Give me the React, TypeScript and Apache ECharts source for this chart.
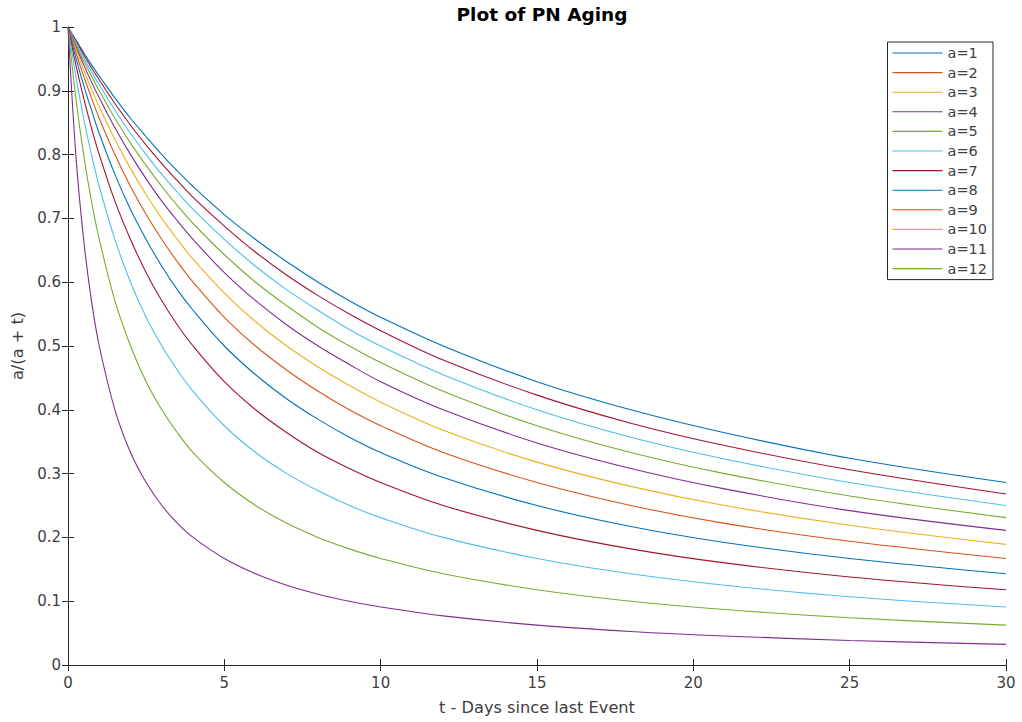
import React, { useEffect, useRef } from "react";
import * as echarts from "echarts";

// t sample positions (days)
const tValues = [0, 0.25, 0.5, 0.75, 1, 1.5, 2, 2.5, 3, 3.5, 4, 5, 6, 7, 8, 9, 10, 12, 15, 18, 21, 25, 30];

// curve values, top curve first
const curveTop1 = [1, 0.98, 0.96, 0.941, 0.923, 0.889, 0.857, 0.828, 0.8, 0.774, 0.75, 0.706, 0.667, 0.632, 0.6, 0.571, 0.545, 0.5, 0.444, 0.4, 0.364, 0.324, 0.286];
const curveTop2 = [1, 0.978, 0.957, 0.936, 0.917, 0.88, 0.846, 0.815, 0.786, 0.759, 0.733, 0.688, 0.647, 0.611, 0.579, 0.55, 0.524, 0.478, 0.423, 0.379, 0.344, 0.306, 0.268];
const curveTop3 = [1, 0.976, 0.952, 0.93, 0.909, 0.87, 0.833, 0.8, 0.769, 0.741, 0.714, 0.667, 0.625, 0.588, 0.556, 0.526, 0.5, 0.455, 0.4, 0.357, 0.323, 0.286, 0.25];
const curveTop4 = [1, 0.973, 0.947, 0.923, 0.9, 0.857, 0.818, 0.783, 0.75, 0.72, 0.692, 0.643, 0.6, 0.563, 0.529, 0.5, 0.474, 0.429, 0.375, 0.333, 0.3, 0.265, 0.231];
const curveTop5 = [1, 0.97, 0.941, 0.914, 0.889, 0.842, 0.8, 0.762, 0.727, 0.696, 0.667, 0.615, 0.571, 0.533, 0.5, 0.471, 0.444, 0.4, 0.348, 0.308, 0.276, 0.242, 0.211];
const curveTop6 = [1, 0.966, 0.933, 0.903, 0.875, 0.824, 0.778, 0.737, 0.7, 0.667, 0.636, 0.583, 0.538, 0.5, 0.467, 0.438, 0.412, 0.368, 0.318, 0.28, 0.25, 0.219, 0.189];
const curveTop7 = [1, 0.96, 0.923, 0.889, 0.857, 0.8, 0.75, 0.706, 0.667, 0.632, 0.6, 0.545, 0.5, 0.462, 0.429, 0.4, 0.375, 0.333, 0.286, 0.25, 0.222, 0.194, 0.167];
const curveTop8 = [1, 0.952, 0.909, 0.87, 0.833, 0.769, 0.714, 0.667, 0.625, 0.588, 0.556, 0.5, 0.455, 0.417, 0.385, 0.357, 0.333, 0.294, 0.25, 0.217, 0.192, 0.167, 0.143];
const curveTop9 = [1, 0.941, 0.889, 0.842, 0.8, 0.727, 0.667, 0.615, 0.571, 0.533, 0.5, 0.444, 0.4, 0.364, 0.333, 0.308, 0.286, 0.25, 0.211, 0.182, 0.16, 0.138, 0.118];
const curveTop10 = [1, 0.923, 0.857, 0.8, 0.75, 0.667, 0.6, 0.545, 0.5, 0.462, 0.429, 0.375, 0.333, 0.3, 0.273, 0.25, 0.231, 0.2, 0.167, 0.143, 0.125, 0.107, 0.091];
const curveTop11 = [1, 0.889, 0.8, 0.727, 0.667, 0.571, 0.5, 0.444, 0.4, 0.364, 0.333, 0.286, 0.25, 0.222, 0.2, 0.182, 0.167, 0.143, 0.118, 0.1, 0.087, 0.074, 0.0625];
const curveTop12 = [1, 0.8, 0.667, 0.571, 0.5, 0.4, 0.333, 0.286, 0.25, 0.222, 0.2, 0.167, 0.143, 0.125, 0.111, 0.1, 0.091, 0.077, 0.0625, 0.0526, 0.0455, 0.0385, 0.0323];

const curves = [curveTop1, curveTop2, curveTop3, curveTop4, curveTop5, curveTop6, curveTop7, curveTop8, curveTop9, curveTop10, curveTop11, curveTop12];

const BLUE = "#0072BD";
const ORANGE = "#D95319";
const YELLOW = "#EDB120";
const PURPLE = "#7E2F8E";
const GREEN = "#77AC30";
const CYAN = "#4DBEEE";
const DARKRED = "#A2142F";

const curveColors = [BLUE, DARKRED, CYAN, GREEN, PURPLE, YELLOW, ORANGE, BLUE, DARKRED, CYAN, GREEN, PURPLE];

const legendNames = ["a=1", "a=2", "a=3", "a=4", "a=5", "a=6", "a=7", "a=8", "a=9", "a=10", "a=11", "a=12"];
const legendColors = [BLUE, ORANGE, YELLOW, PURPLE, GREEN, CYAN, DARKRED, BLUE, ORANGE, YELLOW, PURPLE, GREEN];

const FONT = "DejaVu Sans";
const AXIS = "#262626";
const TEXT = "#404040";

export default function App() {
  const ref = useRef<HTMLDivElement>(null);
  useEffect(() => {
    if (!ref.current) return;
    const chart = echarts.init(ref.current, null, { renderer: "svg" });
    const curveSeries = curves.map((c, i) => ({
      type: "line",
      data: c.map((v, j) => [tValues[j], v]),
      showSymbol: false,
      smooth: 0.35,
      lineStyle: { color: curveColors[i], width: 1.1 },
      itemStyle: { color: curveColors[i] },
      xAxisIndex: 0,
      yAxisIndex: 0,
      z: 2 + i,
      silent: true,
    }));
    const legendSeries = legendNames.map((n, i) => ({
      type: "line",
      name: n,
      data: [],
      showSymbol: false,
      lineStyle: { color: legendColors[i], width: 1.1 },
      itemStyle: { color: legendColors[i] },
    }));
    const tickCommon = {
      axisTick: { show: true, inside: true, length: 6, lineStyle: { color: AXIS } },
      axisLine: { show: true, lineStyle: { color: AXIS, width: 1 } },
      splitLine: { show: false },
    };
    chart.setOption({
      animation: false,
      backgroundColor: "#ffffff",
      title: {
        text: "Plot of PN Aging",
        left: 537,
        textAlign: "center",
        top: 0,
        textStyle: { fontFamily: FONT, fontSize: 18.5, fontWeight: "bold", color: "#000" },
      },
      grid: { left: 68, right: 16, top: 27, bottom: 57, containLabel: false },
      legend: {
        data: legendNames,
        orient: "vertical",
        right: 29,
        top: 42,
        icon: "rect",
        itemWidth: 50,
        itemHeight: 1.1,
        itemGap: 3.6,
        padding: [3, 6, 3, 5],
        backgroundColor: "#fff",
        borderColor: AXIS,
        borderWidth: 1,
        textStyle: { fontFamily: FONT, fontSize: 14.5, lineHeight: 16, color: TEXT },
      },
      xAxis: [
        {
          type: "value",
          min: 0,
          max: 30,
          interval: 5,
          name: "t - Days since last Event",
          nameLocation: "middle",
          nameGap: 34,
          nameTextStyle: { fontFamily: FONT, fontSize: 16.2, color: TEXT },
          axisLabel: { fontFamily: FONT, fontSize: 15, color: TEXT, margin: 10 },
          ...tickCommon,
        },
        {
          type: "value",
          position: "top",
          min: 0,
          max: 30,
          interval: 5,
          axisLabel: { show: false },
          ...tickCommon,
        },
      ],
      yAxis: [
        {
          type: "value",
          min: 0,
          max: 1,
          interval: 0.1,
          name: "a/(a + t)",
          nameLocation: "middle",
          nameGap: 43,
          nameTextStyle: { fontFamily: FONT, fontSize: 16.2, color: TEXT },
          axisLabel: { fontFamily: FONT, fontSize: 15, color: TEXT, margin: 7 },
          ...tickCommon,
        },
        {
          type: "value",
          position: "right",
          min: 0,
          max: 1,
          interval: 0.1,
          axisLabel: { show: false },
          ...tickCommon,
        },
      ],
      series: [...curveSeries, ...legendSeries],
    });
    return () => chart.dispose();
  }, []);
  return <div ref={ref} style={{ width: 1022, height: 722, position: "absolute", left: 0, top: 0 }} />;
}
